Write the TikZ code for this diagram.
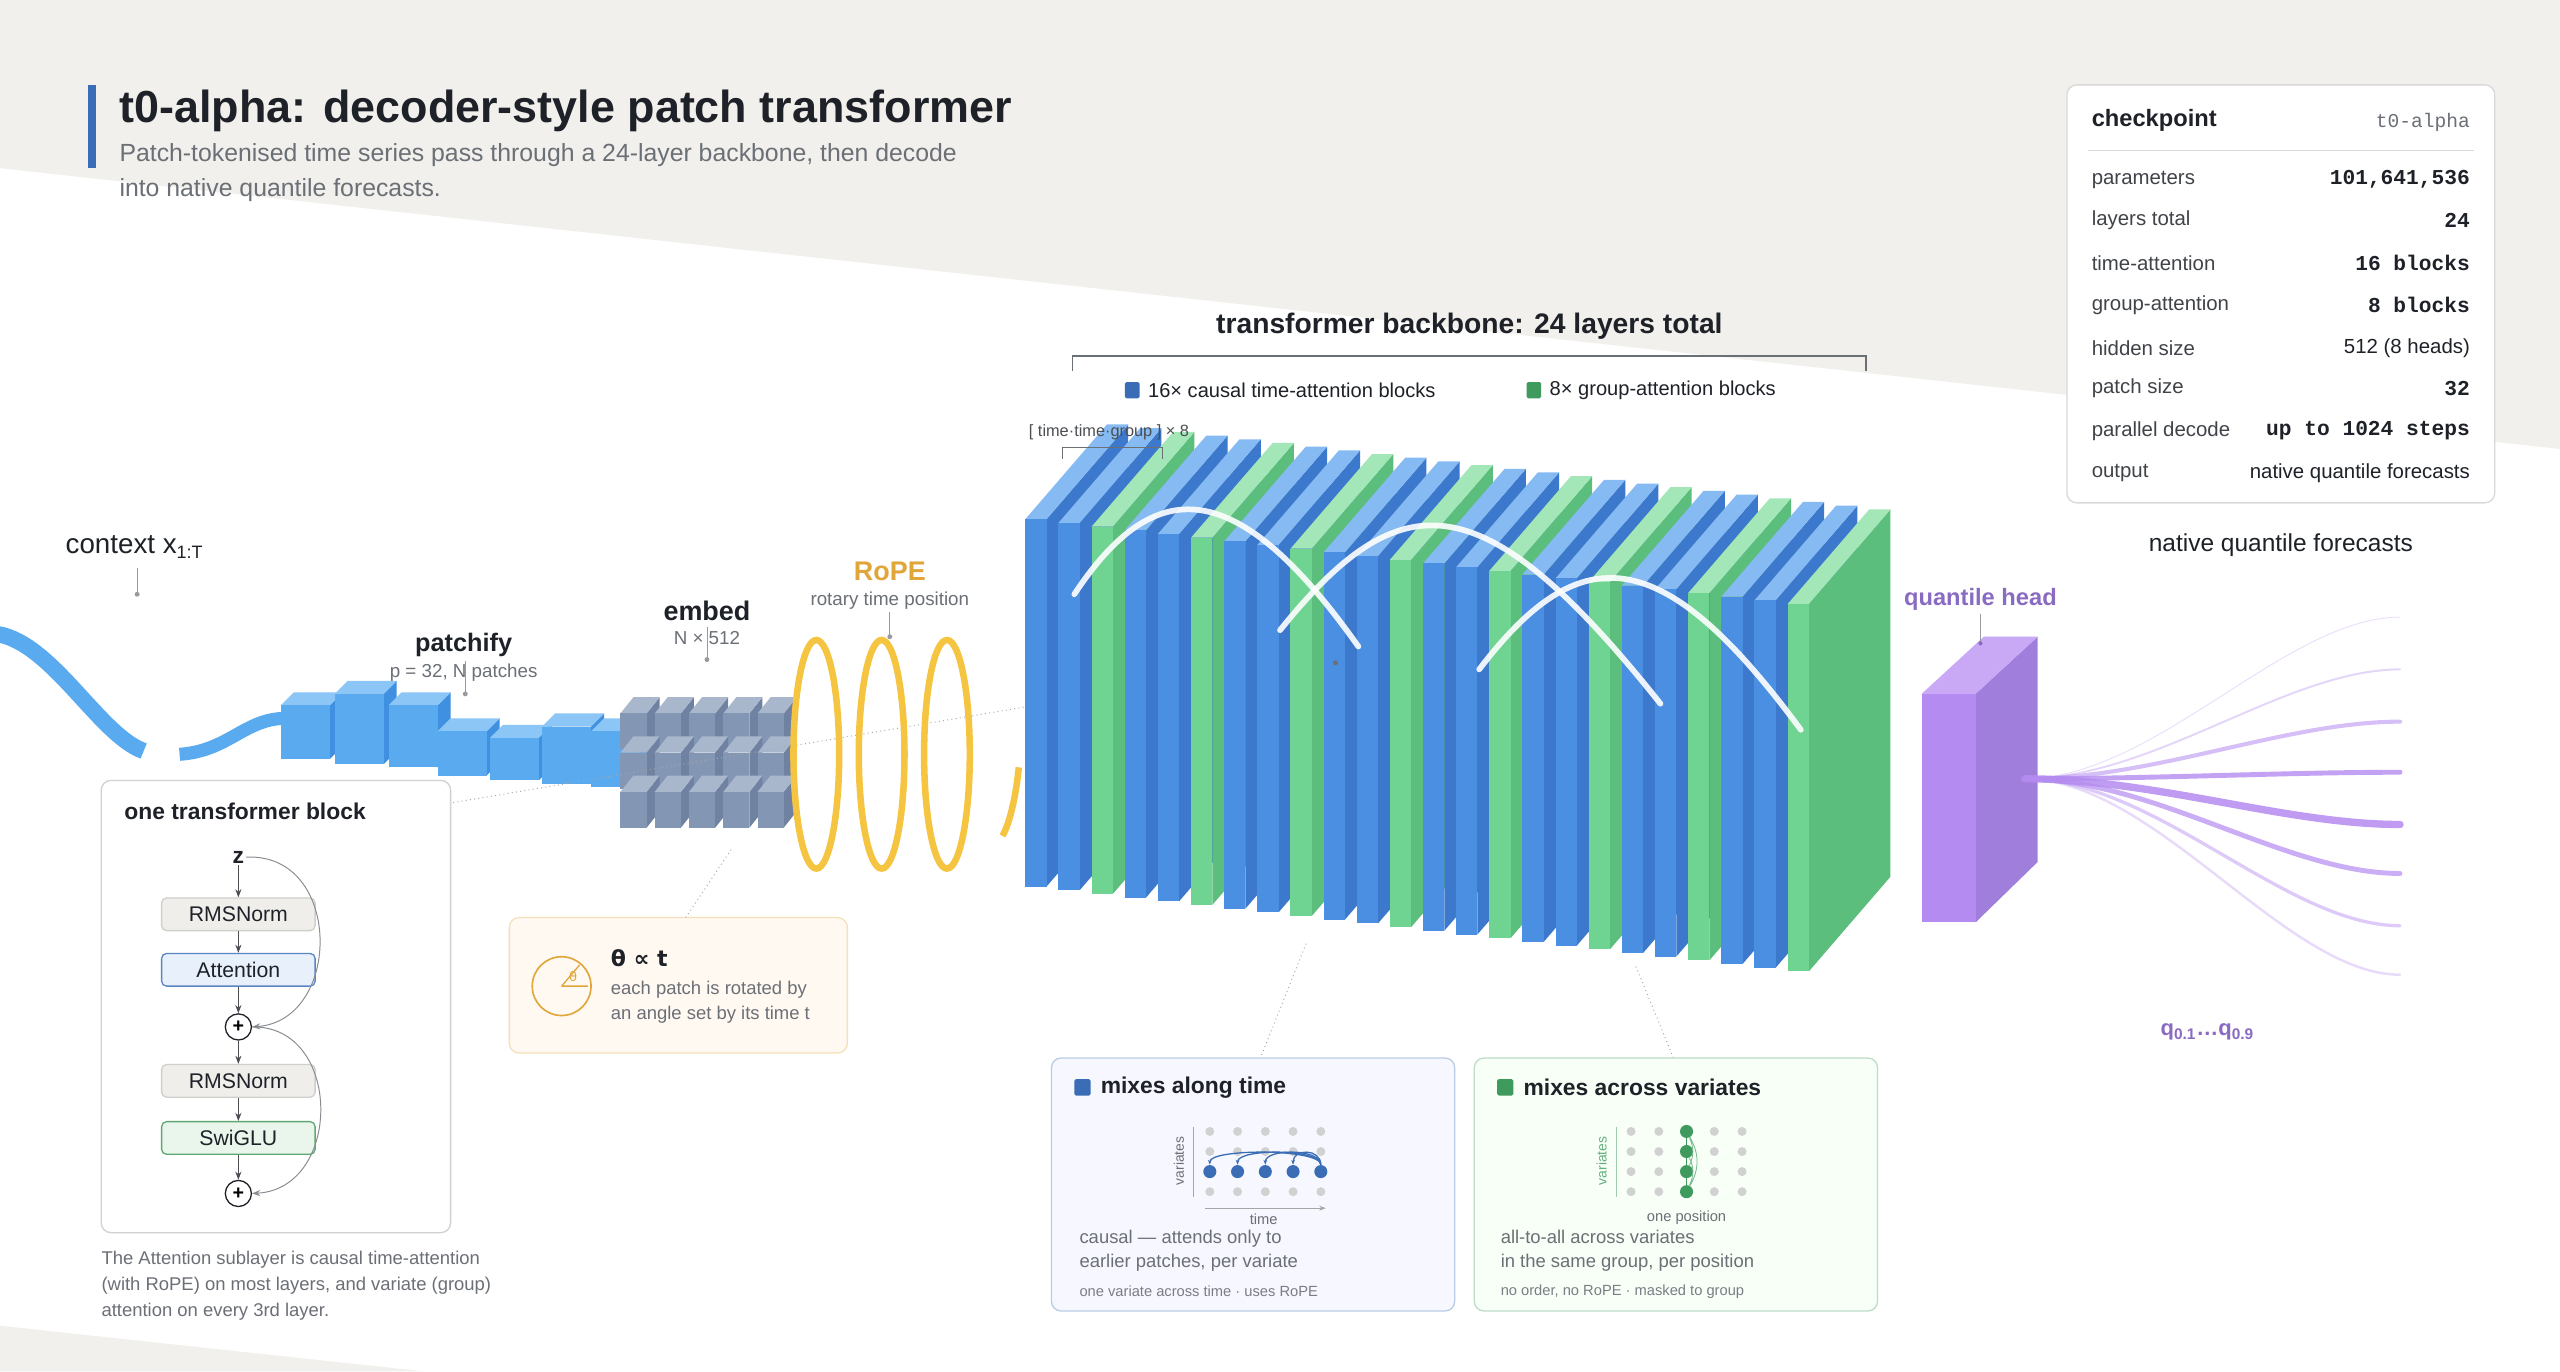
\documentclass[tikz,border=0pt]{standalone}
\usepackage{fontspec}
\setmainfont{Liberation Sans}
\setmonofont{Liberation Mono}
\newfontfamily\dejavu{DejaVu Sans}
\usetikzlibrary{arrows.meta}
\definecolor{bgG}{HTML}{F1F0EC}
\definecolor{ink}{HTML}{1E2228}
\definecolor{gry}{HTML}{6B6F76}
\definecolor{bF}{HTML}{4A8FE2}\definecolor{bT}{HTML}{86BAF2}\definecolor{bS}{HTML}{3C79CC}
\definecolor{gF}{HTML}{6FD392}\definecolor{gT}{HTML}{A3E6B7}\definecolor{gS}{HTML}{5BBE7D}
\definecolor{cube}{HTML}{5AAAF0}\definecolor{cubeT}{HTML}{8CC6F7}\definecolor{cubeS}{HTML}{3F90E0}
\definecolor{emb}{HTML}{8396B4}\definecolor{embT}{HTML}{A9B7CD}\definecolor{embS}{HTML}{6F82A2}
\definecolor{gold}{HTML}{F5C542}\definecolor{rope}{HTML}{E0A63A}
\definecolor{pur}{HTML}{B48BF0}\definecolor{purT}{HTML}{C9A9F6}\definecolor{purS}{HTML}{A07EDC}\definecolor{purL}{HTML}{8A6BC2}
\definecolor{lblue}{HTML}{3A6DB5}\definecolor{lgreen}{HTML}{3F9A5E}
\definecolor{fN}{HTML}{EFEEEB}\definecolor{dN}{HTML}{CFCFCC}
\definecolor{fA}{HTML}{E8F0FB}\definecolor{dA}{HTML}{5A86C6}
\definecolor{fS}{HTML}{EAF6EC}\definecolor{dS}{HTML}{5FA874}
\tikzset{
 lbl/.style={text=ink,font=\bfseries\fontsize{15.5}{17}\selectfont,inner sep=0},
 sub/.style={text=gry,font=\fontsize{11.5}{13}\selectfont,inner sep=0},
 blk/.style={rounded corners=3pt,minimum width=94pt,minimum height=20pt,font=\fontsize{13}{14}\selectfont,text=ink,line width=0.8pt},
 plus/.style={circle,draw=ink,line width=0.8pt,minimum size=16pt,inner sep=0,font=\bfseries\fontsize{12}{12}\selectfont},
 arr/.style={-{Stealth[length=5pt]},draw=ink!80,line width=0.6pt},
 res/.style={-{Stealth[length=5pt]},draw=gry!80,line width=0.6pt},
 panel/.style={rounded corners=6pt,line width=0.8pt},
 ck/.style={text=ink!85,font=\fontsize{12.5}{14}\selectfont,anchor=west,inner sep=0},
 cv/.style={text=ink,font=\ttfamily\bfseries\fontsize{13}{14}\selectfont,anchor=east,inner sep=0},
 cvs/.style={text=ink,font=\fontsize{12.5}{14}\selectfont,anchor=east,inner sep=0},
 lead/.style={draw=gry!70,line width=0.5pt},
 dotl/.style={draw=gry!60,line width=0.6pt,dotted},
 gd/.style={circle,fill=black!18,inner sep=0,minimum size=5.5pt},
}
\begin{document}
\begin{tikzpicture}[x=1pt,y=-1pt]
\useasboundingbox (0,0) rectangle (1568,840);
\fill[white] (0,0) rectangle (1568,840);
\fill[bgG] (0,0)--(1568,0)--(1568,275)--(0,103)--cycle;
\fill[bgG] (0,812)--(260,840)--(0,840)--cycle;
% title
\fill[lblue] (54,52) rectangle (59,103);
\node[anchor=west,inner sep=0,text=ink,font=\bfseries\fontsize{27.5}{30}\selectfont] (title) at (73,68) {t0-alpha: decoder-style patch transformer};
\node[anchor=north west,inner sep=0,text=gry,font=\fontsize{15.2}{21}\selectfont,align=left] (subtitle) at (73,88) {Patch-tokenised time series pass through a 24-layer backbone, then decode\\into native quantile forecasts.};
% checkpoint panel
\draw[panel,draw=black!15,fill=white] (1266,52) rectangle (1528,308);
\node[anchor=west,inner sep=0,text=ink,font=\bfseries\fontsize{14.5}{16}\selectfont] (ckh) at (1281,74) {checkpoint};
\node[anchor=east,inner sep=0,text=gry,font=\ttfamily\fontsize{12}{14}\selectfont] (ckn) at (1513,75) {t0-alpha};
\draw[black!15,line width=0.7pt] (1279,92)--(1515,92);
\foreach \k/\v/\s/\y in {parameters/101{,}641{,}536/cv/110,layers total/24/cv/135,time-attention/16 blocks/cv/161,group-attention/8 blocks/cv/187,hidden size/512 (8 heads)/cvs/213,patch size/32/cv/238,parallel decode/up to 1024 steps/cv/264,output/native quantile forecasts/cvs/290}{
 \node[ck] at (1281,\y) {\k};
 \node[\s] at (1513,\y) {\v};
}
% backbone header
\node[lbl,font=\bfseries\fontsize{17.3}{19}\selectfont] (bbt) at (900,200) {transformer backbone: 24 layers total};
\draw[gry,line width=0.8pt] (657,227)--(657,218)--(1143,218)--(1143,227);
\fill[lblue,rounded corners=1pt] (689,234) rectangle (698,244);
\node[anchor=west,inner sep=0,text=ink,font=\fontsize{12.3}{14}\selectfont] (lg1) at (703,239) {16× causal time-attention blocks};
\fill[lgreen,rounded corners=1pt] (935,234) rectangle (944,244);
\node[anchor=west,inner sep=0,text=ink,font=\fontsize{12.3}{14}\selectfont] (lg2) at (949,239) {8× group-attention blocks};
% slabs
\foreach \i in {0,...,23}{
 \pgfmathsetmacro\x{628+\i*20.3}
 \pgfmathsetmacro\yt{318+\i*2.26}
 \pgfmathsetmacro\yb{543+\i*2.26}
 \pgfmathtruncatemacro\g{mod(\i,3)}
 \ifnum\g=2 \colorlet{cf}{gF}\colorlet{ct}{gT}\colorlet{cs}{gS}\else\colorlet{cf}{bF}\colorlet{ct}{bT}\colorlet{cs}{bS}\fi
 \fill[cs] (\x+13,\yt)--(\x+63,\yt-58)--(\x+63,\yb-58)--(\x+13,\yb)--cycle;
 \fill[ct] (\x,\yt)--(\x+13,\yt)--(\x+63,\yt-58)--(\x+50,\yt-58)--cycle;
 \fill[cf] (\x,\yt) rectangle (\x+13,\yb);
}
\node[anchor=west,inner sep=1pt,text=ink!80,font=\fontsize{10}{12}\selectfont] (ttg) at (629,265) {[ time·time·group ] × 8};
\draw[gry,line width=0.6pt] (651,281)--(651,274)--(712,274)--(712,281);
\foreach \a/\b/\c/\d/\e/\f in {658/364/732/310/832/396, 784/386/883/314/1017/431, 906/410/992/350/1103/447}{
 \draw[white,opacity=0.9,line width=3.5pt,line cap=round] (\a,\b) .. controls (\c-25,\d-20) and (\c+25,\d-20) .. (\e,\f);
}
\fill[gry] (818,406) circle (1.5pt);
% context + wave
\node[anchor=west,inner sep=0,text=ink,font=\fontsize{17}{19}\selectfont] (ctx) at (40,335) {context x\textsubscript{\fontsize{11}{12}\selectfont 1:T}};
\draw[lead] (84,348)--(84,364); \fill[gry!70] (84,364) circle (1.5pt);
\draw[cube,line width=10pt] (-5,388) .. controls (30,390) and (60,450) .. (88,460);
\draw[cube,line width=8pt] (110,462) .. controls (140,460) and (150,440) .. (175,440);
% patch cubes
\foreach \x/\t/\b in {172/432/465,205/425/468,238/432/470,268/448/475,300/452/478,332/445/480,362/448/482}{
 \fill[cubeS] (\x+30,\t)--(\x+38,\t-8)--(\x+38,\b-8)--(\x+30,\b)--cycle;
 \fill[cubeT] (\x,\t)--(\x+30,\t)--(\x+38,\t-8)--(\x+8,\t-8)--cycle;
 \fill[cube] (\x,\t) rectangle (\x+30,\b);
}
\node[lbl] (patchify) at (284,395) {patchify};
\node[sub] (pinfo) at (284,412) {p = 32, N patches};
\draw[lead] (285,405)--(285,424); \fill[gry!70] (285,425) circle (1.5pt);
% embed grid
\foreach \r in {0,1,2}{\foreach \c in {0,...,4}{
 \pgfmathsetmacro\x{380+\c*21}
 \pgfmathsetmacro\y{437+\r*24}
 \fill[embS] (\x+16,\y)--(\x+24,\y-10)--(\x+24,\y+12)--(\x+16,\y+22)--cycle;
 \fill[embT] (\x,\y)--(\x+16,\y)--(\x+24,\y-10)--(\x+8,\y-10)--cycle;
 \fill[emb] (\x,\y) rectangle (\x+16,\y+22);
}}
\node[lbl,font=\bfseries\fontsize{16.5}{18}\selectfont] (embed) at (433,374) {embed};
\node[sub] (einfo) at (433,391) {N × 512};
\draw[lead] (433,384)--(433,403); \fill[gry!70] (433,404) circle (1.5pt);
\draw[dotl] (275,492)--(628,433);
% RoPE
\foreach \cx in {500,540,580}{\draw[gold,line width=4pt] (\cx,462) ellipse (14pt and 70pt);}
\draw[gold,line width=4pt] (624,470) .. controls (622,490) and (618,505) .. (614,512);
\node[lbl,text=rope,font=\bfseries\fontsize{16.5}{18}\selectfont] (rope) at (545,350) {RoPE};
\node[sub] (rinfo) at (545,368) {rotary time position};
\draw[lead] (545,375)--(545,390); \fill[gry!70] (545,390) circle (1.5pt);
% transformer block
\draw[panel,draw=black!18,fill=white] (62,478) rectangle (276,755);
\node[anchor=west,inner sep=0,text=ink,font=\bfseries\fontsize{14}{15}\selectfont] (tbt) at (76,497) {one transformer block};
\node[inner sep=1pt,text=ink,font=\bfseries\fontsize{14}{14}\selectfont] (z) at (146,525) {z};
\node[blk,fill=fN,draw=dN] (n1) at (146,560) {RMSNorm};
\node[blk,fill=fA,draw=dA] (att) at (146,594) {Attention};
\node[plus] (p1) at (146,629) {+};
\node[blk,fill=fN,draw=dN] (n2) at (146,662) {RMSNorm};
\node[blk,fill=fS,draw=dS] (glu) at (146,697) {SwiGLU};
\node[plus] (p2) at (146,731) {+};
\draw[arr] (z)--(n1); \draw[arr] (n1)--(att); \draw[arr] (att)--(p1);
\draw[arr] (p1)--(n2); \draw[arr] (n2)--(glu); \draw[arr] (glu)--(p2);
\draw[res] (z.east) .. controls (210,522) and (210,625) .. (p1.east);
\draw[res] (p1.east) .. controls (210,628) and (210,728) .. (p2.east);
\node[anchor=north west,inner sep=0,text=gry,font=\fontsize{11.3}{16}\selectfont,align=left] (cap) at (62,766) {The Attention sublayer is causal time-attention\\(with RoPE) on most layers, and variate (group)\\attention on every 3rd layer.};
% theta box
\draw[panel,draw=rope!35,fill=orange!5] (312,562) rectangle (519,645);
\draw[rope,line width=1pt] (344,604) circle (18pt);
\draw[rope,line width=0.8pt] (344,604)--(360,604) (344,604)--(355,591);
\node[text=rope,inner sep=0,font=\dejavu\fontsize{8}{8}\selectfont] (th) at (351,598) {θ};
\node[anchor=west,inner sep=0,text=ink,font=\dejavu\bfseries\fontsize{13.5}{16}\selectfont] (thetat) at (374,587) {θ ∝ t};
\node[anchor=north west,inner sep=0,text=gry,font=\fontsize{11.3}{15}\selectfont,align=left] (thetad) at (374,601) {each patch is rotated by\\an angle set by its time t};
\draw[dotl] (420,562)--(448,520);
% bottom panels
\draw[dotl] (800,578)--(772,648);
\draw[dotl] (1002,592)--(1025,648);
\draw[panel,draw=lblue!35,fill=blue!3] (644,648) rectangle (891,803);
\draw[panel,draw=lgreen!35,fill=green!3] (903,648) rectangle (1150,803);
\fill[lblue,rounded corners=1pt] (658,661) rectangle (668,671);
\node[anchor=west,inner sep=0,text=ink,font=\bfseries\fontsize{14}{15}\selectfont] (t1) at (674,666) {mixes along time};
\fill[lgreen,rounded corners=1pt] (917,661) rectangle (927,671);
\node[anchor=west,inner sep=0,text=ink,font=\bfseries\fontsize{14}{15}\selectfont] (t2) at (933,666) {mixes across variates};
\foreach \c in {0,...,4}{\foreach \r in {0,...,3}{
 \node[gd] at (741+\c*17,693+\r*12.3) {};
 \node[gd] at (999+\c*17,693+\r*12.3) {};
}}
\foreach \c in {0,...,4}{\node[circle,fill=lblue,inner sep=0,minimum size=8pt] (b\c) at (741+\c*17,717.6) {};}
\foreach \c in {0,...,3}{\draw[lblue,line width=0.8pt,-{Stealth[length=3pt]}] (b4.north) .. controls +(0,-10) and +(0,-10) .. (b\c.north);}
\foreach \r in {0,...,3}{\node[circle,fill=lgreen,inner sep=0,minimum size=8pt] (g\r) at (1033,693+\r*12.3) {};}
\draw[lgreen,line width=0.8pt] (g0)--(g3);
\draw[lgreen!70,line width=0.5pt] (g0) to[bend left=25] (g2) (g1) to[bend left=25] (g3) (g0) to[bend left=30] (g3);
\draw[black!35,line width=0.6pt] (731,690)--(731,733);
\node[rotate=90,text=gry,inner sep=0,font=\fontsize{8.5}{9}\selectfont] (va1) at (722,711) {variates};
\draw[black!35,line width=0.6pt,-{Stealth[length=4pt]}] (738,740)--(812,740);
\node[sub,font=\fontsize{9}{10}\selectfont] (tm) at (774,747) {time};
\draw[lgreen!50,line width=0.6pt] (990,690)--(990,733);
\node[rotate=90,text=lgreen!80,inner sep=0,font=\fontsize{8.5}{9}\selectfont] (va2) at (981,711) {variates};
\node[sub,font=\fontsize{9}{10}\selectfont] (op) at (1033,746) {one position};
\node[anchor=north west,inner sep=0,text=gry,font=\fontsize{11.3}{15}\selectfont,align=left] (d1) at (661,753) {causal — attends only to\\earlier patches, per variate};
\node[anchor=west,inner sep=0,text=gry!90,font=\fontsize{9}{10}\selectfont] (s1) at (661,791) {one variate across time · uses RoPE};
\node[anchor=north west,inner sep=0,text=gry,font=\fontsize{11.3}{15}\selectfont,align=left] (d2) at (919,753) {all-to-all across variates\\in the same group, per position};
\node[anchor=west,inner sep=0,text=gry!90,font=\fontsize{9}{10}\selectfont] (s2) at (919,791) {no order, no RoPE · masked to group};
% quantile head
\fill[purS] (1210,425)--(1248,390)--(1248,528)--(1210,565)--cycle;
\fill[purT] (1177,425)--(1210,425)--(1248,390)--(1215,390)--cycle;
\fill[pur] (1177,425) rectangle (1210,565);
\node[lbl,text=purL,font=\bfseries\fontsize{14.5}{16}\selectfont] (qh) at (1213,367) {quantile head};
\draw[lead] (1213,376)--(1213,393); \fill[purL] (1213,394) circle (1.3pt);
\coordinate (src) at (1240,477);
\foreach \y/\w/\o in {378/0.5/0.3,410/1.2/0.35,442/2.5/0.55,473/3/0.8,505/4.5/0.85,535/3/0.7,567/2/0.45,597/1.5/0.3}{
 \coordinate (e) at (1470,\y);
 \draw[pur,line width=\w pt,opacity=\o,line cap=round] (src) .. controls (1320,477) and (1400,\y) .. (e);
}
\node[lbl,font=\fontsize{15}{16}\selectfont] (nqf) at (1397,334) {native quantile forecasts};
\node[inner sep=0,text=purL,font=\bfseries\fontsize{13.5}{15}\selectfont] (qq) at (1352,632) {q\textsubscript{0.1}…q\textsubscript{0.9}};
\end{tikzpicture}
\end{document}
